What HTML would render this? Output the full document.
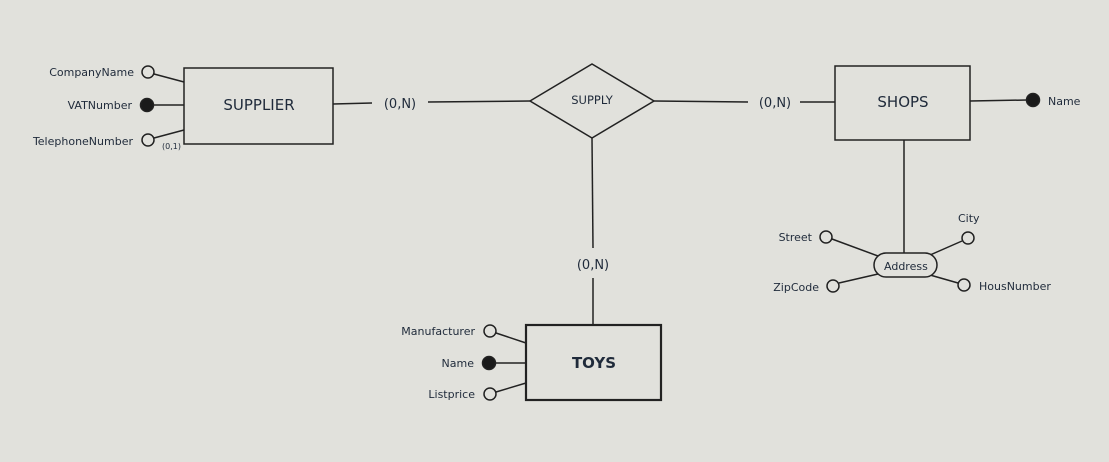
<!DOCTYPE html>
<html><head><meta charset="utf-8"><style>
html,body{margin:0;padding:0;background:#e1e1dc;width:1109px;height:462px;overflow:hidden}
svg{display:block}
text{font-family:"DejaVu Sans","Liberation Sans",sans-serif;fill:#1f2a3a}
</style></head><body>
<svg width="1109" height="462" viewBox="0 0 1109 462" xmlns="http://www.w3.org/2000/svg">
<g stroke="#222" stroke-width="1.5" fill="none">
<rect x="184" y="68" width="149" height="76" fill="#e1e1dc"/>
<line x1="154" y1="74" x2="184" y2="82"/>
<line x1="153" y1="105" x2="184" y2="105"/>
<line x1="154" y1="138" x2="184" y2="130"/>
<line x1="333" y1="104" x2="372" y2="103"/>
<line x1="428" y1="102" x2="530" y2="101"/>
<polygon points="530,101 592,64 654,101 592,138" fill="#e1e1dc"/>
<line x1="654" y1="101" x2="748" y2="102"/>
<line x1="800" y1="102" x2="835" y2="102"/>
<rect x="835" y="66" width="135" height="74" fill="#e1e1dc"/>
<line x1="970" y1="101" x2="1027" y2="100"/>
<line x1="592" y1="138" x2="593" y2="248"/>
<line x1="593" y1="278" x2="593" y2="325"/>
<line x1="496" y1="333" x2="526" y2="343"/>
<line x1="495" y1="363" x2="526" y2="363"/>
<line x1="496" y1="392" x2="526" y2="383"/>
<rect x="526" y="325" width="135" height="75" stroke-width="2.2" fill="#e1e1dc"/>
<line x1="904" y1="140" x2="904" y2="253"/>
<line x1="832" y1="239" x2="878" y2="256"/>
<line x1="962" y1="241" x2="930" y2="255"/>
<line x1="839" y1="283" x2="878" y2="274"/>
<line x1="958" y1="283" x2="930" y2="275"/>
<rect x="874" y="253" width="63" height="24" rx="12" fill="#e1e1dc"/>
<circle cx="148" cy="72" r="6" fill="#e1e1dc"/>
<circle cx="147" cy="105" r="6.5" fill="#1a1a1a"/>
<circle cx="148" cy="140" r="6" fill="#e1e1dc"/>
<circle cx="1033" cy="100" r="6.5" fill="#1a1a1a"/>
<circle cx="490" cy="331" r="6" fill="#e1e1dc"/>
<circle cx="489" cy="363" r="6.5" fill="#1a1a1a"/>
<circle cx="490" cy="394" r="6" fill="#e1e1dc"/>
<circle cx="826" cy="237" r="6" fill="#e1e1dc"/>
<circle cx="968" cy="238" r="6" fill="#e1e1dc"/>
<circle cx="833" cy="286" r="6" fill="#e1e1dc"/>
<circle cx="964" cy="285" r="6" fill="#e1e1dc"/>
</g>
<g font-size="11" text-anchor="end">
<text x="134" y="76">CompanyName</text>
<text x="132" y="109">VATNumber</text>
<text x="133" y="145">TelephoneNumber</text>
<text x="475" y="335">Manufacturer</text>
<text x="474" y="367">Name</text>
<text x="475" y="398">Listprice</text>
<text x="812" y="241">Street</text>
<text x="819" y="291">ZipCode</text>
</g>
<g font-size="11">
<text x="1048" y="105">Name</text>
<text x="958" y="222">City</text>
<text x="979" y="290">HousNumber</text>
<text x="884" y="270">Address</text>
<text x="162" y="149" font-size="8">(0,1)</text>
</g>
<g font-size="13" text-anchor="middle">
<text x="400" y="108">(0,N)</text>
<text x="775" y="107">(0,N)</text>
<text x="593" y="269">(0,N)</text>
<text x="592" y="104" font-size="11.5">SUPPLY</text>
<text x="259" y="110" font-size="15">SUPPLIER</text>
<text x="903" y="107" font-size="15">SHOPS</text>
<text x="594" y="368" font-size="15" font-weight="bold">TOYS</text>
</g>
</svg>
</body></html>
